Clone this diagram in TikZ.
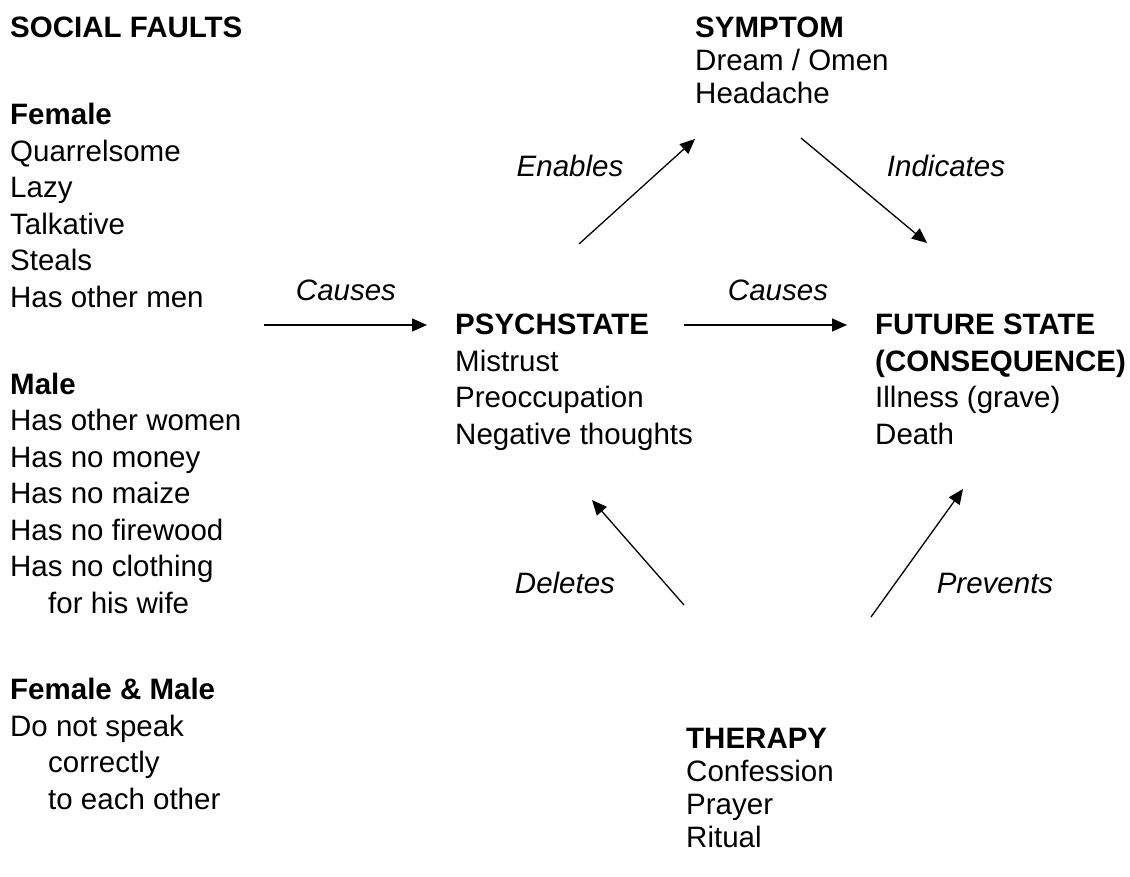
\documentclass[tikz,border=0pt]{standalone}
\usepackage{fontspec}
\setmainfont{Liberation Sans}
\usetikzlibrary{arrows.meta}

\begin{document}
\begin{tikzpicture}[x=1pt,y=-1pt,
    txt/.style={anchor=base west,inner sep=0pt,align=left,font=\fontsize{29.5}{36.5}\selectfont},
    txtclose/.style={txt,font=\fontsize{29.5}{33}\selectfont},
    lbl/.style={inner sep=0pt,font=\fontsize{29.5}{33}\selectfont\itshape},
    arr/.style={-{Triangle[length=15pt,width=13pt]},line width=1.3pt}]
	\useasboundingbox (0,0) rectangle (1130,876);
	% left column: the social faults (nodes sit on their last line)
	\node[txt] (social) at (10,37) {\textbf{SOCIAL FAULTS}};
	\node[txt] (female) at (10,307) {\textbf{Female}\\Quarrelsome\\Lazy\\Talkative\\Steals\\Has other men};
	\node[txt] (male) at (10,613) {\textbf{Male}\\Has other women\\Has no money\\Has no maize\\Has no firewood\\Has no clothing\\\hspace*{38pt}for his wife};
	\node[txt] (both) at (10,809) {\textbf{Female \& Male}\\Do not speak\\\hspace*{38pt}correctly\\\hspace*{38pt}to each other};
	% the four states
	\node[txtclose] (symptom) at (695,103) {\textbf{SYMPTOM}\\Dream / Omen\\Headache};
	\node[txt] (psych) at (455,444) {\textbf{PSYCHSTATE}\\Mistrust\\Preoccupation\\Negative thoughts};
	\node[txt] (future) at (875,444) {\textbf{FUTURE STATE}\\\textbf{(CONSEQUENCE)}\\Illness (grave)\\Death};
	\node[txtclose] (therapy) at (686,847) {\textbf{THERAPY}\\Confession\\Prayer\\Ritual};
	% arrow ends
	\coordinate (faultsout) at (264,325);
	\coordinate (psychin) at (427,325);
	\coordinate (psychout) at (684,325);
	\coordinate (futurein) at (847,325);
	\coordinate (psychup) at (579,244);
	\coordinate (symptomin) at (695,139);
	\coordinate (symptomout) at (801,138);
	\coordinate (futuretop) at (927,243);
	\coordinate (therapyl) at (684,605);
	\coordinate (psychlow) at (592,500);
	\coordinate (therapyr) at (871,617);
	\coordinate (futurelow) at (963,489);
	\draw[arr] (faultsout) -- (psychin);
	\draw[arr] (psychout) -- (futurein);
	\draw[arr] (psychup) -- (symptomin);
	\draw[arr] (symptomout) -- (futuretop);
	\draw[arr] (therapyl) -- (psychlow);
	\draw[arr] (therapyr) -- (futurelow);
	\node[lbl] (causesa) at (346,290) {Causes};
	\node[lbl] (causesb) at (778,290) {Causes};
	\node[lbl] (enables) at (570,166) {Enables};
	\node[lbl] (indicates) at (946,166) {Indicates};
	\node[lbl] (deletes) at (565,583) {Deletes};
	\node[lbl] (prevents) at (995,583) {Prevents};
\end{tikzpicture}
\end{document}
